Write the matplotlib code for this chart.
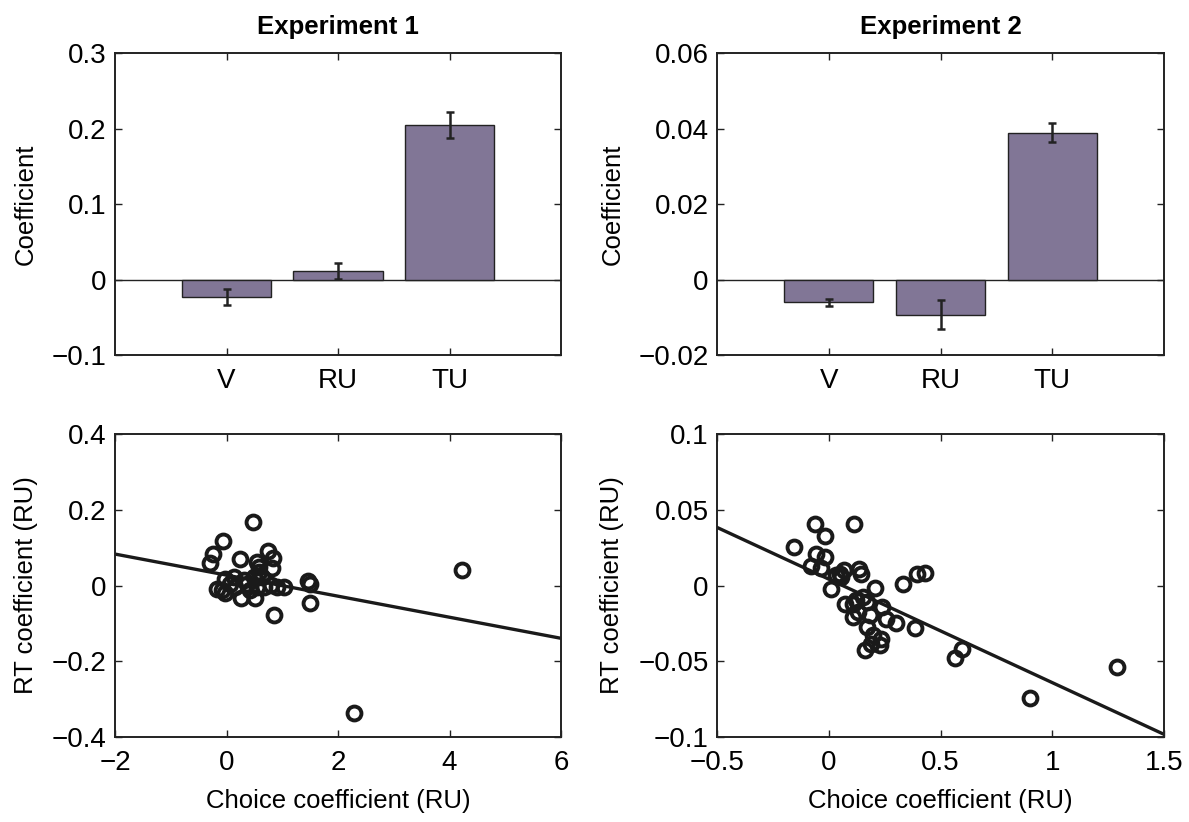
import matplotlib.pyplot as plt
import numpy as np

plt.rcParams['font.family'] = ['Liberation Sans', 'DejaVu Sans']
plt.rcParams['axes.unicode_minus'] = True

# bar data
categories = ['V', 'RU', 'TU']
exp1_coef = [-0.023, 0.0115, 0.205]
exp1_err = [0.0105, 0.0105, 0.017]
exp2_coef = [-0.006, -0.0093, 0.0389]
exp2_err = [0.0009, 0.0039, 0.0026]

# scatter data, experiment 1
exp1_choice = [0.47, -0.06, -0.24, -0.29, 0.24, 0.75, 0.84, 0.81, 0.55, 0.58,
               4.22, 1.47, 1.49, 1.49, 0.85, 2.28,
               -0.17, -0.02, -0.02, 0.13, 0.16, 0.26, 0.37, 0.52, 0.49, 0.64,
               0.67, 0.79, 0.91, 1.03, 0.55, 0.43, 0.07, -0.08, 0.31, 0.58]
exp1_rt = [0.168, 0.117, 0.083, 0.06, 0.07, 0.092, 0.073, 0.047, 0.063, 0.05,
           0.04, 0.011, 0.005, -0.045, -0.079, -0.337,
           -0.008, 0.018, -0.02, 0.023, -0.004, -0.034, 0.005, -0.034, 0.023, 0.023,
           -0.004, 0.001, -0.004, -0.005, -0.004, -0.012, 0.005, -0.012, 0.014, 0.036]
exp1_fit = [-0.0278, 0.0274]  # slope, intercept

# scatter data, experiment 2
exp2_choice = [-0.063, 0.113, -0.018, -0.154, -0.058, -0.018, -0.078, -0.033, 0.034, 0.052,
               0.069, 0.057, 0.134, 0.146, 0.012, 0.209, 0.333, 0.396, 0.43, 0.072,
               0.109, 0.124, 0.154, 0.169, 0.131, 0.109, 0.184, 0.239, 0.258, 0.303,
               0.172, 0.385, 0.199, 0.236, 0.228, 0.161, 0.191, 0.564, 0.597, 0.901, 1.288]
exp2_rt = [0.0403, 0.0407, 0.0326, 0.0253, 0.0209, 0.0185, 0.0126, 0.0115, 0.0068, 0.0079,
           0.0101, 0.0057, 0.0106, 0.0075, -0.0026, -0.0018, 0.0007, 0.0075, 0.0084, -0.0123,
           -0.0119, -0.0097, -0.0075, -0.0108, -0.0174, -0.0207, -0.0196, -0.0141, -0.0218, -0.0247,
           -0.0273, -0.028, -0.0328, -0.035, -0.0394, -0.0423, -0.0383, -0.0478, -0.0416, -0.0742, -0.0535]
exp2_fit = [-0.0683, 0.0042]

bar_color = '#817696'
tick_fs = 20
label_fs = 18.5


def style_axes(ax):
    for s in ax.spines.values():
        s.set_linewidth(1.4)
        s.set_color('#222222')
    ax.tick_params(direction='in', top=True, right=True, length=5, width=1.0,
                   labelsize=tick_fs, pad=6, color='#222222')
    ax.tick_params(axis='x', pad=9)


def bar_panel(ax, vals, errs, ylim, yticks, ylabels, title):
    x = np.arange(1, len(categories) + 1)
    ax.bar(x, vals, width=0.8, color=bar_color, edgecolor='#222222', linewidth=1.0, zorder=2)
    ax.errorbar(x, vals, yerr=errs, fmt='none', ecolor='#222222', elinewidth=1.8,
                capsize=3, capthick=1.8, zorder=3)
    ax.axhline(0, color='#222222', linewidth=1.0, zorder=1)
    ax.set_xlim(0, 4)
    ax.set_ylim(*ylim)
    ax.set_xticks(x)
    ax.set_xticklabels(categories)
    ax.set_yticks(yticks)
    ax.set_yticklabels(ylabels)
    ax.set_ylabel('Coefficient', fontsize=label_fs, labelpad=10)
    ax.set_title(title, fontsize=label_fs, fontweight='bold', pad=14)
    style_axes(ax)


def scatter_panel(ax, xs, ys, fit, xlim, ylim, xticks, xlabels, yticks, ylabels):
    ax.plot(xs, ys, 'o', markersize=10, markerfacecolor='none', markeredgecolor='#1a1a1a',
            markeredgewidth=2.8, zorder=3)
    lx = np.array(xlim)
    ax.plot(lx, fit[0] * lx + fit[1], color='#1a1a1a', linewidth=2.4, zorder=2)
    ax.set_xlim(*xlim)
    ax.set_ylim(*ylim)
    ax.set_xticks(xticks)
    ax.set_xticklabels(xlabels)
    ax.set_yticks(yticks)
    ax.set_yticklabels(ylabels)
    ax.set_xlabel('Choice coefficient (RU)', fontsize=label_fs, labelpad=10)
    ax.set_ylabel('RT coefficient (RU)', fontsize=label_fs, labelpad=10)
    style_axes(ax)


fig = plt.figure(figsize=(11.89, 8.22), dpi=100)
W, H = 1189, 822
ax1 = fig.add_axes([115 / W, 1 - 355 / H, 446 / W, 302 / H])
ax2 = fig.add_axes([717 / W, 1 - 355 / H, 447 / W, 302 / H])
ax3 = fig.add_axes([115 / W, 1 - 737 / H, 446 / W, 303 / H])
ax4 = fig.add_axes([717 / W, 1 - 737 / H, 447 / W, 303 / H])

bar_panel(ax1, exp1_coef, exp1_err, (-0.1, 0.3), [-0.1, 0, 0.1, 0.2, 0.3],
          ['\u22120.1', '0', '0.1', '0.2', '0.3'], 'Experiment 1')
bar_panel(ax2, exp2_coef, exp2_err, (-0.02, 0.06), [-0.02, 0, 0.02, 0.04, 0.06],
          ['\u22120.02', '0', '0.02', '0.04', '0.06'], 'Experiment 2')

scatter_panel(ax3, exp1_choice, exp1_rt, exp1_fit, (-2, 6), (-0.4, 0.4),
              [-2, 0, 2, 4, 6], ['\u22122', '0', '2', '4', '6'],
              [-0.4, -0.2, 0, 0.2, 0.4], ['\u22120.4', '\u22120.2', '0', '0.2', '0.4'])
scatter_panel(ax4, exp2_choice, exp2_rt, exp2_fit, (-0.5, 1.5), (-0.1, 0.1),
              [-0.5, 0, 0.5, 1, 1.5], ['\u22120.5', '0', '0.5', '1', '1.5'],
              [-0.1, -0.05, 0, 0.05, 0.1], ['\u22120.1', '\u22120.05', '0', '0.05', '0.1'])

fig.savefig('out.png', dpi=100)
